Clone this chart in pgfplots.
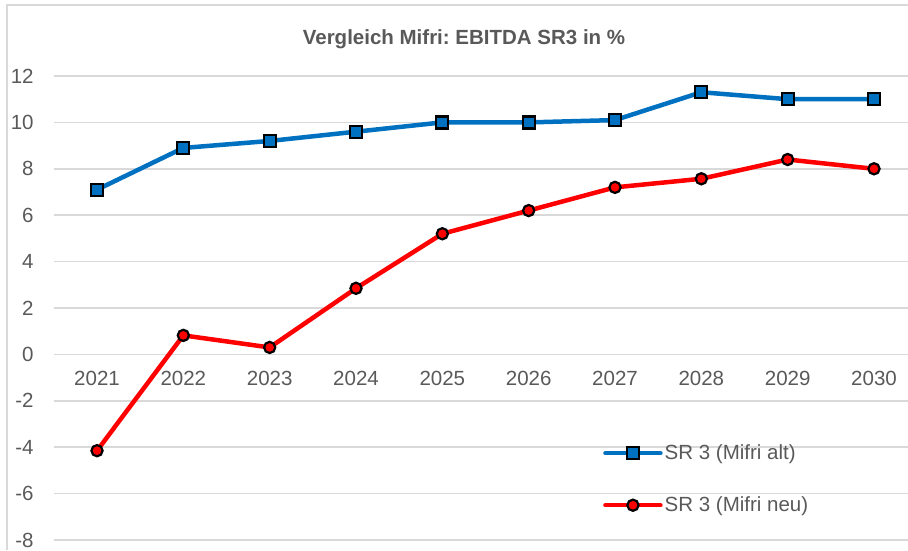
\documentclass[border=0pt]{standalone}
\usepackage{pgfplots}
\pgfplotsset{compat=1.18}
\usepackage{fontspec}
\setmainfont{Liberation Sans}
\definecolor{txtgray}{HTML}{595959}
\definecolor{gridgray}{HTML}{D9D9D9}
\definecolor{blueline}{HTML}{0070C0}
\definecolor{redline}{HTML}{FF0000}
\begin{document}
\frenchspacing
\fontsize{20.5}{24}\selectfont
\begin{tikzpicture}
\useasboundingbox (0pt,0pt) rectangle (908pt,550pt);
\draw[gridgray, line width=1.5pt] (7pt,0pt) -- (7pt,545pt) -- (910pt,545pt);
\node[anchor=base, text=txtgray, font=\fontsize{20.5}{24}\selectfont\bfseries] at (464pt,505.7pt) {Vergleich Mifri: EBITDA SR3 in \%};
\begin{axis}[
  at={(53.85pt,10pt)}, anchor=south west,
  scale only axis, width=854.7pt, height=464pt,
  xmin=-0.5, xmax=9.4, ymin=-8, ymax=12,
  axis x line=middle, axis y line=left,
  axis line style={draw=none},
  major tick length=0pt,
  xtick={0,1,2,3,4,5,6,7,8,9},
  xticklabels={2021,2022,2023,2024,2025,2026,2027,2028,2029,2030},
  ytick={-8,-6,-4,-2,0,2,4,6,8,10,12},
  ymajorgrids, grid style={gridgray, line width=1.5pt},
  /pgf/number format/assume math mode=true,
  ticklabel style={font=\fontsize{20.5}{24}\selectfont, text=txtgray, inner sep=0pt},
  xticklabel style={anchor=north, yshift=-17pt},
  yticklabel style={anchor=east, xshift=-20pt},
  clip=false,
  legend style={draw=none, fill=none, at={(0.6425,0.131)}, anchor=west,
    inner sep=0pt, font=\fontsize{20.5}{24}\selectfont, text=txtgray,
    row sep=34pt,
    nodes={inner xsep=2pt, inner ysep=0pt, text height=15pt, text depth=3pt}},
  legend cell align=left,
  legend image code/.code={\draw[mark repeat=2,mark phase=2,#1,line cap=round] plot coordinates {(0pt,0pt) (27.5pt,0pt) (55pt,0pt)};},
]
\addplot[blueline, line width=4.5pt, mark=square*, mark size=6pt,
  mark options={fill=blueline, draw=black, line width=2.2pt}]
  coordinates {(0,7.1) (1,8.9) (2,9.2) (3,9.6) (4,10.0) (5,10.0) (6,10.1) (7,11.3) (8,11.0) (9,11.0)};
\addlegendentry{SR 3 (Mifri alt)}
\addplot[redline, line width=4.5pt, mark=*, mark size=5.6pt,
  mark options={fill=redline, draw=black, line width=2.2pt}]
  coordinates {(0,-4.15) (1,0.82) (2,0.3) (3,2.85) (4,5.2) (5,6.2) (6,7.2) (7,7.57) (8,8.4) (9,8.0)};
\addlegendentry{SR 3 (Mifri neu)}
\end{axis}
\end{tikzpicture}
\end{document}
